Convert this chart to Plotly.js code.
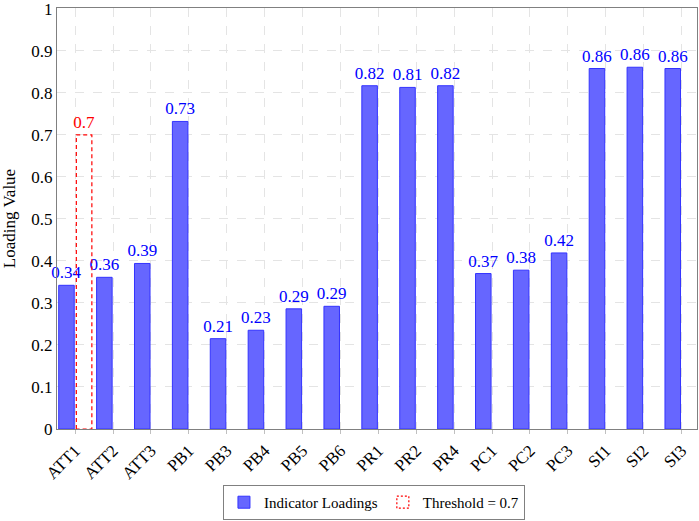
<!DOCTYPE html>
<html>
<head>
<meta charset="utf-8">
<script src="https://cdn.plot.ly/plotly-3.0.1.min.js"></script>
<style>html,body{margin:0;padding:0;background:#fff;}</style>
</head>
<body>
<div id="chart" style="width:699px;height:521px;"></div>
<script>
const categories = ["ATT1","ATT2","ATT3","PB1","PB3","PB4","PB5","PB6","PR1","PR2","PR4","PC1","PC2","PC3","SI1","SI2","SI3"];
const loadings = [0.342,0.361,0.394,0.732,0.215,0.235,0.286,0.292,0.817,0.813,0.817,0.370,0.378,0.419,0.858,0.861,0.858];
const thresholdCategories = ["ATT1"];
const thresholdValues = [0.7];
const yTicks = [0,0.1,0.2,0.3,0.4,0.5,0.6,0.7,0.8,0.9,1];

const serif = "Liberation Serif";

const traces = [
  {
    type: "bar",
    name: "Indicator Loadings",
    x: categories,
    y: loadings,
    offset: -0.435,
    width: 0.41,
    marker: {color: "#6666ff", line: {color: "#3333ff", width: 1}},
    text: loadings.map(v => v.toFixed(2)),
    textposition: "outside",
    textfont: {family: serif, size: 17, color: "#0000ff"},
    constraintext: "none",
    cliponaxis: false,
    hoverinfo: "x+y"
  },
  {
    type: "bar",
    name: "Threshold = 0.7",
    x: thresholdCategories,
    y: thresholdValues,
    offset: 0.03,
    width: 0.41,
    marker: {color: "rgba(255,255,255,0)", line: {color: "#ff0000", width: 1.2}},
    text: thresholdValues.map(v => String(v)),
    textposition: "outside",
    textfont: {family: serif, size: 17, color: "#ff0000"},
    constraintext: "none",
    cliponaxis: false,
    hoverinfo: "x+y"
  }
];

const layout = {
  width: 699,
  height: 521,
  margin: {l: 57, r: 2, t: 8, b: 91.5},
  paper_bgcolor: "#fff",
  plot_bgcolor: "#fff",
  font: {family: serif, size: 16, color: "#000"},
  showlegend: true,
  barmode: "overlay",
  legend: {
    orientation: "h",
    xref: "container",
    yref: "container",
    x: 0.535, xanchor: "center",
    y: 0.002, yanchor: "bottom",
    bordercolor: "#808080", borderwidth: 1,
    font: {family: serif, size: 15, color: "#000"},
    itemwidth: 30,
    tracegroupgap: 0
  },
  xaxis: {
    type: "category",
    range: [-0.48, 16.41],
    tickangle: -45,
    tickfont: {family: serif, size: 17, color: "#000"},
    showgrid: true,
    gridcolor: "#e4e4e4",
    griddash: "dash",
    gridwidth: 1,
    showline: true, linecolor: "#808080", linewidth: 1, mirror: true,
    ticks: "outside", ticklen: 4, tickcolor: "#c0c0c0",
    zeroline: false,
    automargin: false,
    fixedrange: true
  },
  yaxis: {
    range: [0, 1.002],
    tickvals: yTicks,
    ticktext: yTicks.map(v => String(v)),
    tickfont: {family: serif, size: 17, color: "#000"},
    title: {text: "Loading Value", font: {family: serif, size: 17, color: "#000"}, standoff: 12},
    showgrid: true,
    gridcolor: "#e4e4e4",
    griddash: "dash",
    gridwidth: 1,
    showline: true, linecolor: "#808080", linewidth: 1, mirror: true,
    ticks: "",
    zeroline: false,
    automargin: false,
    fixedrange: true
  }
};

Plotly.newPlot("chart", traces, layout, {displayModeBar: false, staticPlot: true}).then(() => {
  const barTraces = document.querySelectorAll(".barlayer .trace.bars");
  if (barTraces[1]) {
    barTraces[1].querySelectorAll("path").forEach(p => { p.style.strokeDasharray = "4,3"; });
  }
  const legendItems = document.querySelectorAll(".legend .traces");
  if (legendItems[1]) {
    legendItems[1].querySelectorAll("path").forEach(p => { p.style.strokeDasharray = "2,2"; });
  }
  document.querySelectorAll(".ytick text, .ytick").forEach(t => {
    t.style.display = "";
    t.style.opacity = "1";
    t.removeAttribute("display");
  });
});
</script>
</body>
</html>
